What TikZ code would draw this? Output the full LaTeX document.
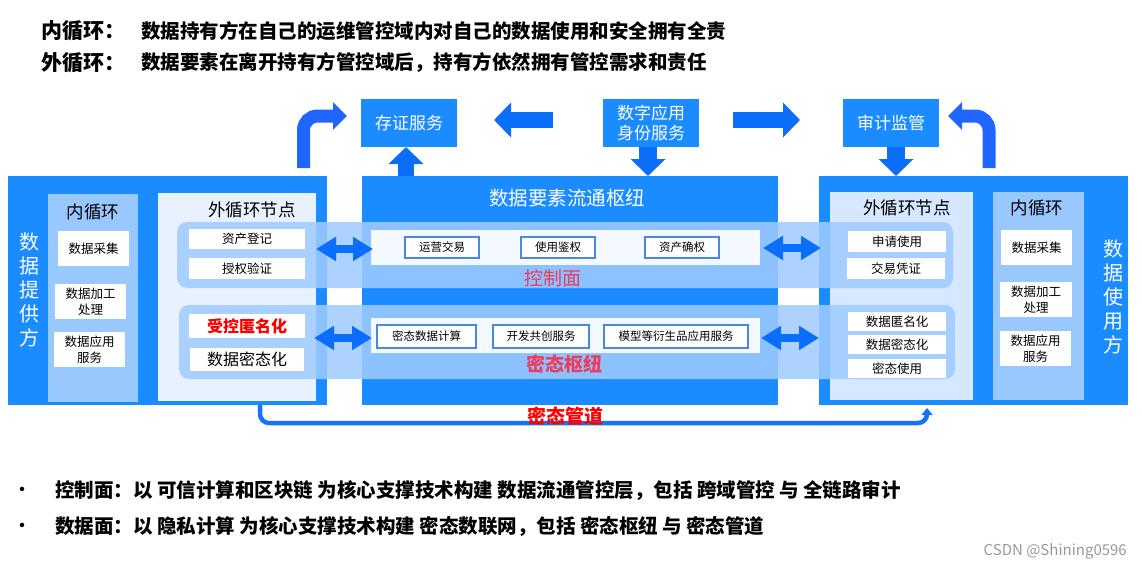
\documentclass[tikz,border=0pt]{standalone}
\usepackage{fontspec}
\setmainfont{Noto Sans CJK SC}
\usetikzlibrary{arrows.meta,fit}
\definecolor{mainblue}{HTML}{1A8CFF}
\definecolor{arrowblue}{HTML}{0A6EFA}
\definecolor{bentblue}{HTML}{1E66FF}
\definecolor{innerpanel}{HTML}{99C8FF}
\definecolor{outerL}{HTML}{E8F2FF}
\definecolor{outerR}{HTML}{D6E8FF}
\definecolor{bandc}{HTML}{9FCBFF}
\definecolor{hubpanel}{HTML}{F4F8FF}
\definecolor{boxedge}{HTML}{4A86E8}
\definecolor{pinkred}{HTML}{EE3D5C}
\definecolor{pipeblue}{HTML}{1574F5}
\newcommand{\fsz}[2]{\fontsize{#1pt}{#2pt}\selectfont}
\tikzset{
  area/.style={inner sep=0pt, outer sep=0pt, draw=none},
  bluebox/.style={area, fill=mainblue},
  topbox/.style={area, fill=mainblue, text=white, font=\fsz{17}{20}, align=center},
  whitebox/.style={area, fill=white, font=\fsz{12.5}{16}, align=center},
  hubbox/.style={area, fill=white, draw=boxedge, line width=1.2pt, font=\fsz{11.5}{14}},
  band/.style={area, fill=bandc, fill opacity=0.86, rounded corners=10pt},
  title/.style={font=\fsz{17.5}{20}, inner sep=0pt},
  blockarrow/.style={draw=arrowblue, line width=16pt, -{Triangle[width=34pt,length=17pt]}},
  dblarrow/.style={draw=arrowblue, line width=8pt, {Triangle[width=23pt,length=20pt]}-{Triangle[width=23pt,length=20pt]}},
  bentarrow/.style={draw=bentblue, line width=13pt, rounded corners=14pt, -{Triangle[width=27pt,length=14pt]}},
  pipe/.style={draw=pipeblue, line width=4.5pt, rounded corners=9pt, -{Triangle[width=11pt,length=7pt]}},
  headtext/.style={anchor=west, inner sep=0pt, font=\bfseries\fsz{19.5}{22}},
  headlabel/.style={anchor=west, inner sep=0pt, font=\bfseries\fsz{21}{24}},
}
\begin{document}
\begin{tikzpicture}[x=1pt,y=-1pt]
\useasboundingbox (0,0) rectangle (1142,571);
% header
\node[headlabel] (h1l) at (41,31) {内循环：};
\node[headtext] (h1t) at (141,31) {数据持有方在自己的运维管控域内对自己的数据使用和安全拥有全责};
\node[headlabel] (h2l) at (41,63) {外循环：};
\node[headtext] (h2t) at (141,63) {数据要素在离开持有方管控域后，持有方依然拥有管控需求和责任};

% big boxes
\node[bluebox, fit={(8,176)(327,405)}] (prov) {};
\node[bluebox, fit={(362,176)(778,405)}] (hub) {};
\node[bluebox, fit={(819,176)(1128,405)}] (user) {};

% provider panels
\node[area, fill=innerpanel, fit={(48,194)(138,402)}] (provinner) {};
\node[area, fill=outerL, fit={(158,193)(316,401)}] (provouter) {};
\node[title] (provinnert) at (93,212) {内循环};
\node[title] (provoutert) at (252,210) {外循环节点};
\node[text=white, font=\fsz{20}{24}, align=center, inner sep=0pt] (provname) at (29,290) {数\\据\\提\\供\\方};

% user panels
\node[area, fill=outerR, fit={(830,192)(973,400)}] (userouter) {};
\node[area, fill=innerpanel, fit={(993,192)(1084,400)}] (userinner) {};
\node[title] (useroutert) at (907,208) {外循环节点};
\node[title] (userinnert) at (1037,208) {内循环};
\node[text=white, font=\fsz{20}{24}, align=center, inner sep=0pt] (username) at (1113,297) {数\\据\\使\\用\\方};

% hub title
\node[text=white, font=\fsz{19.5}{22}, inner sep=0pt] (hubt) at (567,198) {数据要素流通枢纽};

% bands
\node[band, fit={(177,222)(953,288)}] (ctrlband) {};
\node[band, fit={(179,305)(955,379)}] (databand) {};

% hub inner panels
\node[area, fill=hubpanel, fit={(371,230)(760,265)}] (hubctrl) {};
\node[area, fill=hubpanel, fit={(371,318)(760,353)}] (hubdata) {};
\node[hubbox, fit={(405,237)(479,258)}] (hb1) {};
\node[font=\fsz{11.5}{14}] at (hb1) {运营交易};
\node[hubbox, fit={(521,237)(595,258)}] (hb2) {};
\node[font=\fsz{11.5}{14}] at (hb2) {使用鉴权};
\node[hubbox, fit={(645,237)(719,258)}] (hb3) {};
\node[font=\fsz{11.5}{14}] at (hb3) {资产确权};
\node[hubbox, fit={(377,325)(476,348)}] (hb4) {};
\node[font=\fsz{11.5}{14}] at (hb4) {密态数据计算};
\node[hubbox, fit={(493,325)(589,348)}] (hb5) {};
\node[font=\fsz{11.5}{14}] at (hb5) {开发共创服务};
\node[hubbox, fit={(604,325)(748,348)}] (hb6) {};
\node[font=\fsz{11.5}{14}] at (hb6) {模型等衍生品应用服务};
\node[text=pinkred, font=\fsz{19}{22}, inner sep=0pt] (ctrlt) at (553,278) {控制面};
\node[text=pinkred, font=\bfseries\fsz{19}{22}, inner sep=0pt] (datat) at (564,364) {密态枢纽};

% provider label boxes
\node[whitebox, fit={(58,231)(129,266)}] (lb1) {};
\node[font=\fsz{12.5}{16}, align=center] at (lb1) {数据采集};
\node[whitebox, fit={(55,284)(126,319)}] (lb2) {};
\node[font=\fsz{12.5}{16}, align=center] at (lb2) {数据加工\\处理};
\node[whitebox, fit={(54,332)(125,367)}] (lb3) {};
\node[font=\fsz{12.5}{16}, align=center] at (lb3) {数据应用\\服务};
\node[whitebox, fit={(189,229)(305,249)}] (lo1) {};
\node[font=\fsz{12.5}{16}] at (lo1) {资产登记};
\node[whitebox, fit={(189,258)(305,279)}] (lo2) {};
\node[font=\fsz{12.5}{16}] at (lo2) {授权验证};
\node[whitebox, fit={(189,314)(305,338)}] (lo3) {};
\node[font=\bfseries\fsz{16}{18}, text=red] at (lo3) {受控匿名化};
\node[whitebox, fit={(190,348)(304,371)}] (lo4) {};
\node[font=\fsz{16}{18}] at (lo4) {数据密态化};

% user label boxes
\node[whitebox, fit={(1001,230)(1072,265)}] (rb1) {};
\node[font=\fsz{12.5}{16}, align=center] at (rb1) {数据采集};
\node[whitebox, fit={(1000,282)(1072,317)}] (rb2) {};
\node[font=\fsz{12.5}{16}, align=center] at (rb2) {数据加工\\处理};
\node[whitebox, fit={(1000,331)(1071,366)}] (rb3) {};
\node[font=\fsz{12.5}{16}, align=center] at (rb3) {数据应用\\服务};
\node[whitebox, fit={(848,231)(946,252)}] (ro1) {};
\node[font=\fsz{12.5}{16}] at (ro1) {申请使用};
\node[whitebox, fit={(847,258)(945,279)}] (ro2) {};
\node[font=\fsz{12.5}{16}] at (ro2) {交易凭证};
\node[whitebox, fit={(848,312)(946,331)}] (ro3) {};
\node[font=\fsz{12.5}{16}] at (ro3) {数据匿名化};
\node[whitebox, fit={(848,335)(946,354)}] (ro4) {};
\node[font=\fsz{12.5}{16}] at (ro4) {数据密态化};
\node[whitebox, fit={(848,359)(946,378)}] (ro5) {};
\node[font=\fsz{12.5}{16}] at (ro5) {密态使用};

% top boxes
\node[topbox, fit={(361,99)(457,147)}] (cz) {};
\node[text=white, font=\fsz{17}{20}] at (cz) {存证服务};
\node[topbox, fit={(603,99)(699,147)}] (sz) {};
\node[text=white, font=\fsz{17}{20}, align=center] at (sz) {数字应用\\身份服务};
\node[topbox, fit={(843,99)(939,147)}] (sj) {};
\node[text=white, font=\fsz{17}{20}] at (sj) {审计监管};

% block arrows
\coordinate (a1s) at (553,120);
\coordinate (a1e) at (494,120);
\coordinate (a2s) at (733,120);
\coordinate (a2e) at (800,120);
\draw[blockarrow] (a1s) -- (a1e);
\draw[blockarrow] (a2s) -- (a2e);
\draw[blockarrow] ([xshift=-3pt]cz.south |- hub.north) -- ([xshift=-3pt]cz.south);
\draw[blockarrow, line width=18pt] ([xshift=-3pt]sz.south) -- ([xshift=-3pt]sz.south |- hub.north);
\draw[blockarrow, line width=18pt] ([xshift=5pt]sj.south) -- ([xshift=5pt]sj.south |- user.north);

% bent arrows
\coordinate (b1s) at (303.5,168);
\coordinate (b1e) at (347,116);
\coordinate (b2s) at (989,168);
\coordinate (b2e) at (948,116);
\draw[bentarrow] (b1s) |- (b1e);
\draw[bentarrow] (b2s) |- (b2e);

% double arrows
\coordinate (d1s) at (316,249); \coordinate (d1e) at (373,249);
\coordinate (d2s) at (314,338); \coordinate (d2e) at (372,338);
\coordinate (d3s) at (763,248); \coordinate (d3e) at (821,248);
\coordinate (d4s) at (761,338); \coordinate (d4e) at (819,338);
\draw[dblarrow] (d1s) -- (d1e);
\draw[dblarrow] (d2s) -- (d2e);
\draw[dblarrow] (d3s) -- (d3e);
\draw[dblarrow] (d4s) -- (d4e);

% pipe
\coordinate (p1) at (260,405);
\coordinate (p2) at (927,408);
\draw[pipe] (p1) |- (927,423) -- (p2);
\node[text=red, font=\bfseries\fsz{19}{22}, inner sep=0pt] (pipet) at (565,416) {密态管道};

% bullets
\node[inner sep=0pt, font=\bfseries\fsz{16}{20}] (bul1) at (22,491) {•};
\node[headtext] (bt1) at (55,491) {控制面：以 可信计算和区块链 为核心支撑技术构建 数据流通管控层，包括 跨域管控 与 全链路审计};
\node[inner sep=0pt, font=\bfseries\fsz{16}{20}] (bul2) at (22,527) {•};
\node[headtext] (bt2) at (55,527) {数据面：以 隐私计算 为核心支撑技术构建 密态数联网，包括 密态枢纽 与 密态管道};

\node[anchor=east, inner sep=0pt, text=black!40, font=\fsz{15}{18}] (wm) at (1127,551) {CSDN @Shining0596};
\end{tikzpicture}
\end{document}
